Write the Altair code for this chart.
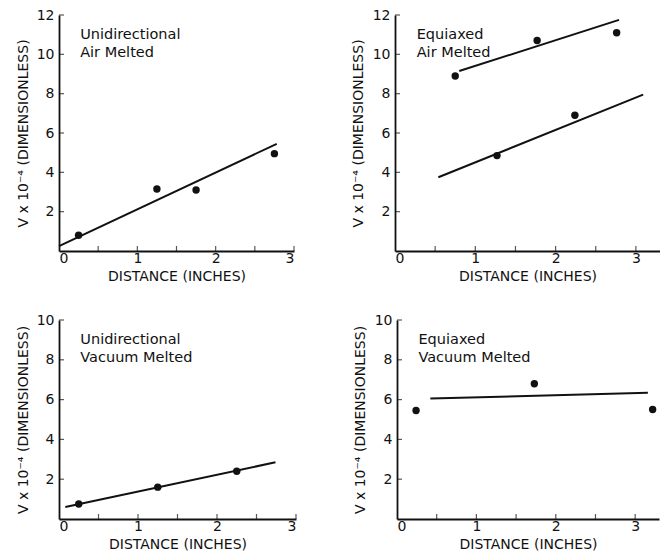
import altair as alt
import pandas as pd

# ---- Data ----
# Panel A: Unidirectional, Air Melted
ua_dist = [0.25, 1.25, 1.75, 2.75]
ua_v = [0.8, 3.15, 3.1, 4.95]
ua_fit_dist = [0.0, 2.78]
ua_fit_v = [0.25, 5.45]

# Panel B: Equiaxed, Air Melted (two groups)
ea_dist = [0.75, 1.77, 2.76, 1.27, 2.24]
ea_v = [8.9, 10.7, 11.1, 4.85, 6.9]
ea_fit_upper_dist = [0.8, 2.79]
ea_fit_upper_v = [9.15, 11.75]
ea_fit_lower_dist = [0.54, 3.09]
ea_fit_lower_v = [3.75, 7.95]

# Panel C: Unidirectional, Vacuum Melted
uv_dist = [0.25, 1.25, 2.25]
uv_v = [0.75, 1.6, 2.4]
uv_fit_dist = [0.08, 2.74]
uv_fit_v = [0.6, 2.85]

# Panel D: Equiaxed, Vacuum Melted
ev_dist = [0.24, 1.73, 3.22]
ev_v = [5.45, 6.8, 5.5]
ev_fit_dist = [0.42, 3.16]
ev_fit_v = [6.05, 6.35]

x_labels = [0, 1, 2, 3]
x_minor = [0.5, 1, 1.5, 2, 2.5, 3]

Y_TITLE = "V x 10\u207b\u2074 (DIMENSIONLESS)"
X_TITLE = "DISTANCE (INCHES)"
INK = "#111111"
FONT = "DejaVu Sans"


def panel(dist, v, fits, labels, xmax, ymax, w, h, ytitle_pad, xtick_vals):
    y_ticks = list(range(2, ymax + 1, 2))
    xs = alt.Scale(domain=[0, xmax], nice=False, zero=False)
    ys = alt.Scale(domain=[0, ymax], nice=False, zero=False)
    X = alt.X("x:Q", scale=xs, axis=alt.Axis(
        values=x_labels, title=X_TITLE, ticks=False, grid=False,
        labelPadding=0, titlePadding=4, format="d"))
    Y = alt.Y("v:Q", scale=ys, axis=alt.Axis(
        values=y_ticks, title=Y_TITLE, ticks=False, grid=False,
        labelPadding=5, titlePadding=ytitle_pad, format="d"))

    pts = pd.DataFrame({"x": dist, "v": v})
    rows = []
    for gi, (fx, fv) in enumerate(fits):
        for a, b in zip(fx, fv):
            rows.append({"x": a, "v": b, "g": gi})
    fit_df = pd.DataFrame(rows)

    xt = pd.DataFrame({"x": xtick_vals, "v": [0] * len(xtick_vals)})
    yt = pd.DataFrame({"x": [0] * len(y_ticks), "v": y_ticks})

    lines = alt.Chart(fit_df).mark_line(color=INK, strokeWidth=2).encode(
        x=X, y=Y, detail="g:N")
    dots = alt.Chart(pts).mark_circle(color=INK, opacity=1, size=55).encode(x=X, y=Y)
    xtk = alt.Chart(xt).mark_tick(color=INK, orient="vertical", size=5,
                                   thickness=1.2, yOffset=-2.5).encode(x=X, y=Y)
    ytk = alt.Chart(yt).mark_tick(color=INK, orient="horizontal", size=5,
                                   thickness=1.2, xOffset=2.5).encode(x=X, y=Y)
    ann_df = pd.DataFrame({"x": [0.27], "v": [ymax - 1.0]})
    ann = alt.Chart(ann_df).mark_text(
        text=labels, align="left", baseline="middle", lineHeight=18,
        fontSize=14.5, font=FONT, color=INK).encode(x=X, y=Y)
    return alt.layer(lines, dots, xtk, ytk, ann).properties(width=w, height=h)


pa = panel(ua_dist, ua_v, [(ua_fit_dist, ua_fit_v)],
           ["Unidirectional", "Air Melted"], 3, 12, 235, 236, 6, x_minor)
pb = panel(ea_dist, ea_v,
           [(ea_fit_upper_dist, ea_fit_upper_v), (ea_fit_lower_dist, ea_fit_lower_v)],
           ["Equiaxed", "Air Melted"], 3.3, 12, 265, 236, 7, x_minor)
pc = panel(uv_dist, uv_v, [(uv_fit_dist, uv_fit_v)],
           ["Unidirectional", "Vacuum Melted"], 3, 10, 237, 199, 6, x_minor)
pd_ = panel(ev_dist, ev_v, [(ev_fit_dist, ev_fit_v)],
            ["Equiaxed", "Vacuum Melted"], 3.3, 10, 262, 199, 7, x_minor)

top = alt.hconcat(pa, pb, spacing=56)
bottom = alt.hconcat(pc, pd_, spacing=56)

chart = alt.vconcat(top, bottom, spacing=30).properties(
    padding={"left": 8, "top": 0, "right": 0, "bottom": 0},
    background="white",
).configure_view(stroke=None).configure_axis(
    domainColor=INK, domainWidth=1.8, labelColor=INK, titleColor=INK,
    labelFont=FONT, titleFont=FONT, labelFontSize=14, titleFontSize=14,
    titleFontWeight="normal", labelFontWeight="normal",
).configure_axisX(labelAngle=0)

chart.save("out.html", embed_options={"renderer": "svg", "actions": False})
